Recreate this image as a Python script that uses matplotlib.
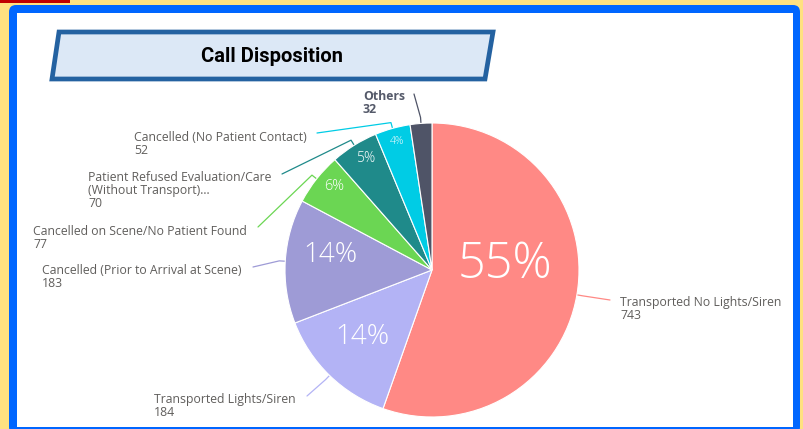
import matplotlib
matplotlib.use("Agg")
import matplotlib.pyplot as plt
from matplotlib.patches import Rectangle, FancyBboxPatch, Polygon
import numpy as np

# ---- data ----
categories = ["Transported No Lights/Siren", "Transported Lights/Siren",
              "Cancelled (Prior to Arrival at Scene)", "Cancelled on Scene/No Patient Found",
              "Patient Refused Evaluation/Care\n(Without Transport)...",
              "Cancelled (No Patient Contact)", "Others"]
values = [743, 184, 183, 77, 70, 52, 32]
colors = ["#FF8985", "#B3B3F5", "#9E9BD6", "#6BD653", "#1F8A8A", "#00CCE5", "#4F5467"]
title = "Call Disposition"

W, H = 804, 429
fig = plt.figure(figsize=(W / 100, H / 100), dpi=100)
fig.patch.set_facecolor("#FFE180")
ax = fig.add_axes([0, 0, 1, 1])

def py(y):
    return H - y

FONT = ["Open Sans", "DejaVu Sans"]
TXT = "#605E5C"

# background frame
ax.add_patch(Rectangle((0, py(2.5)), 70, 2.5, facecolor="#C00000", edgecolor="none", zorder=0))
ax.add_patch(FancyBboxPatch((9, py(434)), 791, 429, boxstyle="round,pad=0,rounding_size=7",
                            facecolor="#0066FF", edgecolor="none", zorder=0))
ax.add_patch(Rectangle((17, py(427)), 776, 414, facecolor="white", edgecolor="none", zorder=0.5))

# title banner
ax.add_patch(Polygon([(59, py(32)), (493, py(32)), (485, py(79)), (52, py(79))], closed=True,
                     facecolor="#DCE8F6", edgecolor="#2462A1", linewidth=3.4, zorder=1))
ax.text(272, py(57), title, ha="center", va="center", fontsize=14.5, fontweight="bold",
        family=["Roboto", "DejaVu Sans"], color="black", zorder=2)

# pie
cx, cy, R = 432, py(270), 147
wedges, _ = ax.pie(values, colors=colors, startangle=90, counterclock=False, radius=R,
                   center=(cx, cy), wedgeprops=dict(edgecolor="white", linewidth=0.8),
                   frame=False)
for w in wedges:
    w.set_zorder(3)

total = sum(values)
pcts = [round(v / total * 100) for v in values]

# percent labels (positions in pixels)
pct_pos = [(505, 265, 35), (362, 337, 20), (330, 255, 20), (334, 187, 10.5),
           (366, 159, 10), (397, 141, 7.5), None]
for p, pos in zip(pcts, pct_pos):
    if pos is None:
        continue
    x, y, fs = pos
    ax.text(x, py(y), f"{p}%", ha="center", va="center", color="white", fontsize=fs,
            family=FONT, fontweight="light", zorder=4)

# outer labels: (text left x, text top y, leader end x, leader end y)
lab_pos = [(620, 296, 610, 300), (154, 393, 307, 396), (42, 264, 253, 267),
           (33, 225, 258, 227), (88, 171, 282, 174), (134, 131, 317, 133), (363, 90, 414, 94)]

angles = []
a = 90.0
for v in values:
    span = v / total * 360
    angles.append(a - span / 2)
    a -= span

for i, (cat, v, col, ang, lp) in enumerate(zip(categories, values, colors, angles, lab_pos)):
    tx, ty, ex, ey = lp
    bold = (cat == "Others")
    ax.text(tx, py(ty), f"{cat}\n{v}", ha="left", va="top", fontsize=8.8,
            family=FONT, fontweight="bold" if bold else "normal",
            color="#555A6A" if bold else TXT, linespacing=1.0, zorder=4)
    t = np.deg2rad(ang)
    x0, y0 = cx + R * np.cos(t), cy + R * np.sin(t)
    x1, y1 = cx + (R + 6) * np.cos(t), cy + (R + 6) * np.sin(t)
    ax.plot([x0, x1, ex], [y0, y1, py(ey)], color=col, linewidth=0.9, zorder=2,
            solid_capstyle="round")

ax.set_xlim(0, W)
ax.set_ylim(0, H)
ax.set_aspect("auto")
ax.axis("off")

fig.savefig("out.png", dpi=100, facecolor=fig.get_facecolor())
